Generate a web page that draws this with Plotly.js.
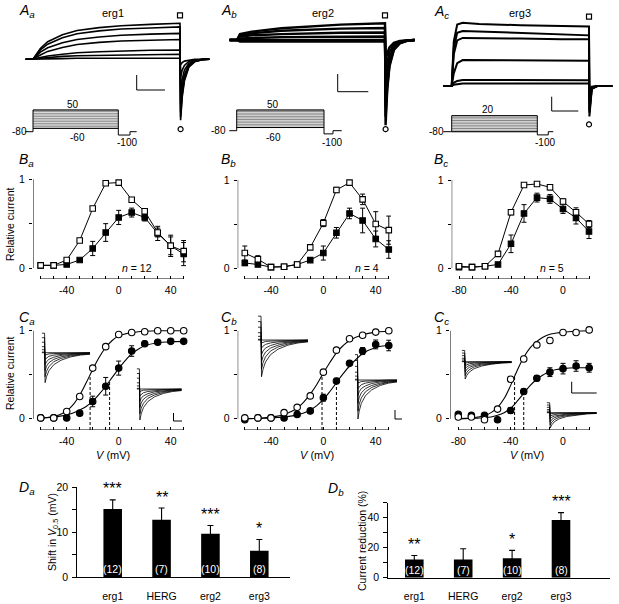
<!DOCTYPE html>
<html><head><meta charset="utf-8">
<script src="https://cdn.plot.ly/plotly-3.0.1.min.js"></script>
<style>html,body{margin:0;padding:0;background:#fff}#chart{width:619px;height:604px}</style>
</head><body><div id="chart"></div>
<script>
const W = 619, H = 604;
const FONT = 'Liberation Sans, Arial, Helvetica, sans-serif';

// ================= DATA =================
// --- A: current traces (normalised units) ---
const tAa = [-50, 0, 50, 100, 200, 300, 450, 600, 800, 1000, 1000, 1004, 1015, 1030, 1060, 1100, 1150, 1200];
const Aa1 = [0, 0, 0.30, 0.49, 0.68, 0.80, 0.88, 0.93, 0.97, 1.00, 1.00, -1.69, -1.05, -0.60, -0.22, -0.07, -0.01, 0];
const Aa2 = [0, 0, 0.26, 0.42, 0.60, 0.71, 0.79, 0.84, 0.87, 0.90, 0.90, -1.60, -0.98, -0.55, -0.20, -0.06, -0.01, 0];
const Aa3 = [0, 0, 0.20, 0.32, 0.46, 0.55, 0.62, 0.67, 0.70, 0.72, 0.72, -1.45, -0.88, -0.50, -0.18, -0.05, -0.01, 0];
const Aa4 = [0, 0, 0.12, 0.22, 0.33, 0.41, 0.47, 0.51, 0.53, 0.55, 0.55, -1.25, -0.75, -0.42, -0.15, -0.05, 0, 0];
const Aa5 = [0, 0, 0.05, 0.09, 0.14, 0.18, 0.21, 0.23, 0.25, 0.26, 0.26, -0.90, -0.55, -0.30, -0.11, -0.03, 0, 0];
const Aa6 = [0, 0, 0.03, 0.05, 0.08, 0.10, 0.11, 0.12, 0.13, 0.14, 0.14, -0.50, -0.30, -0.17, -0.06, -0.02, 0, 0];
const Aa7 = [0, 0, 0.01, 0.02, 0.02, 0.03, 0.03, 0.03, 0.03, 0.03, 0.03, -0.15, -0.09, -0.05, -0.02, 0, 0, 0];

const tAb = [-50, 0, 20, 100, 300, 500, 700, 1000, 1000, 1004, 1015, 1030, 1060, 1100, 1150, 1200];
const Ab1 = [0, 0, 0.35, 0.50, 0.70, 0.82, 0.92, 1.00, 1.00, -5.1, -3.0, -1.6, -0.60, -0.20, -0.05, 0];
const Ab2 = [0, 0, 0.30, 0.40, 0.55, 0.62, 0.68, 0.72, 0.72, -4.6, -2.8, -1.5, -0.55, -0.18, -0.04, 0];
const Ab3 = [0, 0, 0.20, 0.28, 0.35, 0.40, 0.43, 0.45, 0.45, -4.0, -2.5, -1.35, -0.50, -0.16, -0.04, 0];
const Ab4 = [0, 0, 0.10, 0.13, 0.17, 0.19, 0.20, 0.21, 0.21, -3.2, -2.0, -1.1, -0.40, -0.13, -0.03, 0];
const Ab5 = [0, 0, 0, 0, 0, 0, 0, 0, 0, -2.2, -1.4, -0.75, -0.28, -0.09, -0.02, 0];
const Ab6 = [0, 0, -0.10, -0.10, -0.10, -0.10, -0.10, -0.10, -0.10, -1.2, -0.8, -0.45, -0.17, -0.05, -0.01, 0];

const tAc = [-60, 0, 15, 40, 80, 200, 500, 800, 1000, 1000, 1003, 1020, 1060, 1100, 1170];
const Ac1 = [0, 0, 0.70, 0.97, 1.00, 0.98, 0.96, 0.95, 0.94, 0.94, -0.48, -0.05, 0, 0, 0];
const Ac2 = [0, 0, 0.60, 0.84, 0.87, 0.86, 0.84, 0.82, 0.80, 0.80, -0.42, -0.04, 0, 0, 0];
const Ac3 = [0, 0, 0.50, 0.72, 0.76, 0.76, 0.75, 0.74, 0.74, 0.74, -0.38, -0.04, 0, 0, 0];
const Ac4 = [0, 0, 0.20, 0.36, 0.41, 0.41, 0.41, 0.40, 0.40, 0.40, -0.25, -0.03, 0, 0, 0];
const Ac5 = [0, 0, 0.05, 0.08, 0.095, 0.095, 0.09, 0.09, 0.09, 0.09, -0.12, -0.02, 0, 0, 0];
const Ac6 = [0, 0, 0.02, 0.03, 0.04, 0.04, 0.04, 0.04, 0.04, 0.04, -0.06, -0.01, 0, 0, 0];

// --- A: voltage protocols (mV) ---
const protoStepsAB = [-60, -50, -40, -30, -20, -10, 0, 10, 20, 30, 40, 50];
const protoStepsC = [-80, -70, -60, -50, -40, -30, -20, -10, 0, 10, 20];
const protoHold = -80, protoTail = -100;
const protoTimesA = [-94, 0, 1000, 1137, 1215];
const protoTimesB = [-85, 0, 1000, 1103, 1203];
const protoTimesC = [-98, 0, 1000, 1128, 1187];

// --- B: relative current vs V ---
const vB = [-60, -50, -40, -30, -20, -10, 0, 10, 20, 30, 40, 50];
const vBc = [-80, -70, -60, -50, -40, -30, -20, -10, 0, 10, 20];
const Ba_ctrl = [0.03, 0.03, 0.09, 0.31, 0.67, 0.955, 0.963, 0.77, 0.64, 0.40, 0.25, 0.19];
const Ba_ctrl_err = [0.01, 0.01, 0.015, 0.02, 0.02, 0.01, 0.01, 0.02, 0.03, 0.05, 0.10, 0.12];
const Ba_drug = [0.03, 0.03, 0.04, 0.09, 0.22, 0.40, 0.57, 0.625, 0.57, 0.39, 0.25, 0.157];
const Ba_drug_err = [0.01, 0.01, 0.01, 0.015, 0.08, 0.10, 0.08, 0.05, 0.04, 0.08, 0.12, 0.13];
const Bb_ctrl = [0.17, 0.10, 0.01, 0.015, 0.04, 0.234, 0.51, 0.887, 0.97, 0.78, 0.50, 0.43];
const Bb_ctrl_err = [0.08, 0.04, 0.01, 0.01, 0.01, 0.02, 0.04, 0.03, 0.01, 0.06, 0.14, 0.16];
const Bb_drug = [0.057, 0.04, 0.01, 0.015, 0.04, 0.09, 0.17, 0.40, 0.62, 0.54, 0.33, 0.21];
const Bb_drug_err = [0.03, 0.01, 0.01, 0.01, 0.01, 0.02, 0.08, 0.06, 0.06, 0.14, 0.09, 0.10];
const Bc_ctrl = [0.02, 0.01, 0.02, 0.16, 0.634, 0.943, 0.955, 0.917, 0.755, 0.634, 0.50];
const Bc_ctrl_err = [0.01, 0.01, 0.01, 0.01, 0.03, 0.01, 0.01, 0.03, 0.03, 0.05, 0.04];
const Bc_drug = [0.01, 0.01, 0.02, 0.04, 0.275, 0.62, 0.80, 0.785, 0.67, 0.57, 0.415];
const Bc_drug_err = [0.01, 0.01, 0.01, 0.01, 0.10, 0.10, 0.05, 0.05, 0.05, 0.07, 0.08];

// --- C: activation curves ---
const Ca_ctrl = [0.01, 0.01, 0.083, 0.254, 0.576, 0.82, 0.958, 0.98, 0.99, 1.0, 1.0, 1.0];
const Ca_ctrl_err = [0.01, 0.01, 0.01, 0.02, 0.01, 0.01, 0.01, 0.01, 0.01, 0.01, 0.01, 0.01];
const Ca_drug = [0.01, 0.01, 0.01, 0.064, 0.197, 0.37, 0.576, 0.77, 0.852, 0.87, 0.88, 0.88];
const Ca_drug_err = [0.01, 0.01, 0.01, 0.015, 0.06, 0.10, 0.08, 0.06, 0.03, 0.02, 0.02, 0.02];
const Cb_ctrl = [0.01, 0.01, 0.01, 0.07, 0.13, 0.26, 0.53, 0.78, 0.91, 0.95, 0.985, 1.0];
const Cb_ctrl_err = [0.01, 0.01, 0.01, 0.01, 0.01, 0.01, 0.02, 0.01, 0.01, 0.01, 0.01, 0.01];
const Cb_drug = [-0.01, 0.01, 0.01, 0.01, 0.05, 0.09, 0.24, 0.43, 0.63, 0.77, 0.845, 0.833];
const Cb_drug_err = [0.01, 0.01, 0.01, 0.01, 0.01, 0.015, 0.04, 0.03, 0.02, 0.04, 0.05, 0.06];
const Cc_ctrl = [0.02, 0.02, -0.01, 0.11, 0.45, 0.68, 0.84, 0.89, 0.98, 0.98, 1.01];
const Cc_ctrl_err = [0.01, 0.01, 0.01, 0.01, 0.02, 0.03, 0.02, 0.03, 0.01, 0.01, 0.01];
const Cc_drug = [0.05, 0.04, 0.04, -0.01, 0.095, 0.31, 0.46, 0.53, 0.57, 0.60, 0.58];
const Cc_drug_err = [0.02, 0.02, 0.02, 0.02, 0.03, 0.03, 0.03, 0.05, 0.06, 0.06, 0.05];
// fitted curves
const vFitAB = [-60, -55, -50, -45, -40, -35, -30, -25, -20, -15, -10, -5, 0, 5, 10, 15, 20, 30, 40, 50];
const Ca_fit_ctrl = [0.01, 0.015, 0.03, 0.05, 0.09, 0.16, 0.27, 0.41, 0.56, 0.70, 0.81, 0.89, 0.94, 0.965, 0.98, 0.99, 0.995, 1.0, 1.0, 1.0];
const Ca_fit_drug = [0.01, 0.012, 0.02, 0.03, 0.045, 0.065, 0.10, 0.14, 0.20, 0.28, 0.37, 0.47, 0.57, 0.66, 0.74, 0.79, 0.83, 0.865, 0.875, 0.88];
const Cb_fit_ctrl = [0.0, 0.003, 0.006, 0.01, 0.02, 0.03, 0.05, 0.08, 0.12, 0.19, 0.28, 0.39, 0.52, 0.64, 0.75, 0.83, 0.89, 0.955, 0.985, 0.995];
const Cb_fit_drug = [0.0, 0.002, 0.004, 0.007, 0.01, 0.015, 0.02, 0.03, 0.045, 0.065, 0.10, 0.15, 0.22, 0.31, 0.41, 0.51, 0.60, 0.74, 0.81, 0.835];
const vFitC = [-80, -75, -70, -65, -60, -55, -50, -45, -40, -35, -30, -25, -20, -15, -10, -5, 0, 10, 20];
const Cc_fit_ctrl = [0.0, 0.005, 0.01, 0.02, 0.035, 0.07, 0.13, 0.23, 0.38, 0.55, 0.70, 0.81, 0.88, 0.93, 0.96, 0.975, 0.985, 0.995, 1.0];
const Cc_fit_drug = [0.0, 0.002, 0.005, 0.008, 0.012, 0.02, 0.04, 0.07, 0.12, 0.20, 0.29, 0.38, 0.45, 0.50, 0.54, 0.56, 0.57, 0.58, 0.58];
const v05Ctrl = [-22, -1, -37];
const v05Drug = [-7, 10, -30];
const halfCtrl = [0.5, 0.52, 0.5];
const halfDrug = [0.44, 0.42, 0.29];
// inset tail-current family (normalised)
const insetT = [0, 6, 7, 10, 15, 25, 40, 60, 80, 100];
const insetFamily = [
  [0.65, 0.65, -1.0, -0.80, -0.60, -0.40, -0.25, -0.14, -0.08, -0.05],
  [0.50, 0.50, -0.80, -0.62, -0.46, -0.30, -0.19, -0.11, -0.06, -0.04],
  [0.35, 0.35, -0.60, -0.45, -0.33, -0.22, -0.14, -0.08, -0.05, -0.03],
  [0.20, 0.20, -0.40, -0.30, -0.22, -0.15, -0.09, -0.05, -0.03, -0.02],
  [0.10, 0.10, -0.22, -0.17, -0.12, -0.08, -0.05, -0.03, -0.02, -0.01],
  [0.02, 0.02, -0.08, -0.06, -0.04, -0.03, -0.02, -0.01, 0, 0],
  [0, 0, 0, 0, 0, 0, 0, 0, 0, 0]
];

// --- D: bar charts ---
const dCats = ['erg1', 'HERG', 'erg2', 'erg3'];
const Da_shift = [15.2, 12.8, 9.7, 5.9];
const Da_err = [2.0, 2.6, 1.8, 2.5];
const Da_stars = ['***', '**', '***', '*'];
const Db_red = [12.1, 12.2, 12.9, 38.4];
const Db_err = [2.7, 7.1, 5.3, 5.0];
const Db_stars = ['**', '', '*', '***'];
const dN = ['(12)', '(7)', '(10)', '(8)'];

// ================= HELPERS =================
function xdom(pxL, pxR, p1, v1, p2, v2) {
  const s = (v2 - v1) / (p2 - p1);
  return { domain: [pxL / W, pxR / W], range: [v1 + (pxL - p1) * s, v1 + (pxR - p1) * s] };
}
function ydom(pxT, pxB, p1, v1, p2, v2) {
  const s = (v2 - v1) / (p2 - p1);
  return { domain: [1 - pxB / H, 1 - pxT / H], range: [v1 + (pxB - p1) * s, v1 + (pxT - p1) * s] };
}
const sfx = n => (n === 1 ? '' : String(n));
const layout = {
  width: W, height: H, margin: { l: 0, r: 0, t: 0, b: 0 }, showlegend: false,
  paper_bgcolor: '#fff', plot_bgcolor: 'rgba(0,0,0,0)',
  font: { family: FONT, size: 10.5, color: '#000' },
  annotations: [], shapes: []
};
const data = [];
const hidden = { visible: false, showgrid: false, zeroline: false, fixedrange: true };
function setAxes(n, xa, ya) {
  layout['xaxis' + sfx(n)] = Object.assign({ anchor: 'y' + sfx(n) }, xa);
  layout['yaxis' + sfx(n)] = Object.assign({ anchor: 'x' + sfx(n) }, ya);
}
function txt(px, py, text, o) {
  layout.annotations.push(Object.assign({ xref: 'paper', yref: 'paper', x: px / W, y: 1 - py / H, text: text, showarrow: false, xanchor: 'center', yanchor: 'middle', font: { size: 10.5, family: FONT, color: '#000' } }, o || {}));
}
function segPx(x0, y0, x1, y1, w) {
  layout.shapes.push({ type: 'line', xref: 'paper', yref: 'paper', x0: x0 / W, y0: 1 - y0 / H, x1: x1 / W, y1: 1 - y1 / H, line: { color: '#000', width: w || 1 } });
}
function lineTrace(n, x, y, w, extra) {
  data.push(Object.assign({ type: 'scatter', mode: 'lines', x: x, y: y, xaxis: 'x' + sfx(n), yaxis: 'y' + sfx(n), line: { color: '#000', width: w }, hoverinfo: 'skip' }, extra || {}));
}
// data units per screen pixel on a y axis
function yPerPx(n) {
  const a = layout['yaxis' + sfx(n)];
  return (a.range[1] - a.range[0]) / ((a.domain[1] - a.domain[0]) * H);
}

// ================= A PANELS =================
function tracesPanel(n, t, list, w) { list.forEach(y => lineTrace(n, t, y, w)); }
function protoPanel(n, steps, times) {
  const [tPre, t0, t1, tT, tE] = times;
  const vmax = Math.max(...steps);
  lineTrace(n, [tPre, t0], [protoHold, protoHold], 1);
  const xs = [], ys = [];
  steps.forEach(v => { xs.push(t0, t1, null); ys.push(v, v, null); });
  lineTrace(n, xs, ys, 0.7, { line: { color: '#555', width: 0.7 } });
  lineTrace(n, [t0, t0, t1, t1, t1, tT, tT, tE], [protoHold, vmax, vmax, vmax, protoTail, protoTail, protoHold, protoHold], 1);
  lineTrace(n, [t0, t1], [Math.min(...steps), Math.min(...steps)], 1);
}
// Aa
setAxes(1, Object.assign({}, hidden, xdom(25, 215, 33, 0, 180, 1000)), Object.assign({}, hidden, ydom(5, 140, 59.3, 0, 23.3, 1)));
tracesPanel(1, tAa, [Aa7, Aa6, Aa5, Aa4, Aa3, Aa2, Aa1], 1.6);
setAxes(2, Object.assign({}, hidden, xdom(15, 145, 33, 0, 118.3, 1000)), Object.assign({}, hidden, ydom(100, 145, 131.7, -80, 110, 50)));
protoPanel(2, protoStepsAB, protoTimesA);
// Ab
setAxes(3, Object.assign({}, hidden, xdom(225, 415, 237, 0, 385, 1000)), Object.assign({}, hidden, ydom(5, 140, 40, 0, 23.3, 1)));
tracesPanel(3, tAb, [Ab6, Ab5, Ab4, Ab3, Ab2, Ab1], 2.4);
setAxes(4, Object.assign({}, hidden, xdom(220, 350, 236.7, 0, 324, 1000)), Object.assign({}, hidden, ydom(100, 145, 130.7, -80, 110, 50)));
protoPanel(4, protoStepsAB, protoTimesB);
// Ac
setAxes(5, Object.assign({}, hidden, xdom(440, 619, 451.7, 0, 589, 1000)), Object.assign({}, hidden, ydom(5, 140, 86, 0, 22.7, 1)));
tracesPanel(5, tAc, [Ac6, Ac5, Ac4, Ac3, Ac2, Ac1], 2.0);
setAxes(6, Object.assign({}, hidden, xdom(430, 565, 451.7, 0, 537.3, 1000)), Object.assign({}, hidden, ydom(100, 145, 131.7, -80, 115.7, 20)));
protoPanel(6, protoStepsC, protoTimesC);

// measurement markers (square above end of step, circle below tail peak)
function markers(n, t, top, tailT, sqShift, ciShift) {
  const k = yPerPx(n);
  const mk = sym => ({ size: 5, color: '#fff', symbol: sym, line: { color: '#000', width: 1.2 } });
  data.push({ type: 'scatter', mode: 'markers', x: [t[t.indexOf(1000)]], y: [Math.max(...top) + sqShift * k], xaxis: 'x' + sfx(n), yaxis: 'y' + sfx(n), marker: mk('square'), cliponaxis: false, hoverinfo: 'skip' });
  data.push({ type: 'scatter', mode: 'markers', x: [tailT], y: [Math.min(...top) - ciShift * k], xaxis: 'x' + sfx(n), yaxis: 'y' + sfx(n), marker: mk('circle'), cliponaxis: false, hoverinfo: 'skip' });
}
markers(1, tAa, Aa1, 1004, 8, 9);
markers(3, tAb, Ab1, 1004, 8, 4);
markers(5, tAc, Ac1, 1000, 6, 8);

// scale bars
segPx(136.7, 75, 136.7, 90); segPx(136.7, 90, 165, 90);
segPx(337.7, 74, 337.7, 91.7); segPx(337.7, 91.7, 368.3, 91.7);
segPx(551.7, 96.7, 551.7, 111); segPx(551.7, 111, 578.3, 111);

// panel letters and A labels
const lettersFont = { size: 14, family: FONT, color: '#000' };
function letter(px, py, A, a) { txt(px, py, '<i>' + A + '<sub>' + a + '</sub></i>', { xanchor: 'left', font: lettersFont }); }
letter(17, 11, 'A', 'a'); letter(219, 11, 'A', 'b'); letter(432, 12, 'A', 'c');
letter(17, 160, 'B', 'a'); letter(219, 160, 'B', 'b'); letter(432, 160, 'B', 'c');
letter(17, 318, 'C', 'a'); letter(219, 318, 'C', 'b'); letter(432, 318, 'C', 'c');
letter(17, 488, 'D', 'a'); letter(326, 489, 'D', 'b');
txt(113, 13, 'erg1', { font: { size: 11, family: FONT, color: '#000' } });
txt(323, 13, 'erg2', { font: { size: 11, family: FONT, color: '#000' } });
txt(520, 13, 'erg3', { font: { size: 11, family: FONT, color: '#000' } });
const pf = { size: 10, family: FONT, color: '#000' };
txt(72.5, 104.5, '50', { font: pf }); txt(77, 138, '-60', { font: pf }); txt(19, 131.7, '-80', { font: pf }); txt(127, 142, '-100', { font: pf });
txt(273, 104.3, '50', { font: pf }); txt(273, 137.3, '-60', { font: pf }); txt(218, 130.7, '-80', { font: pf }); txt(332, 142.7, '-100', { font: pf });
txt(488.3, 110, '20', { font: pf }); txt(436, 131.7, '-80', { font: pf }); txt(545, 142, '-100', { font: pf });

// ================= B & C PANELS =================
function bcAxes(n, xd, yd, vmin, vmax) {
  const tv = [];
  for (let v = vmin; v <= vmax; v += 10) tv.push(v);
  const tt = tv.map(v => (v % 40 === 0 ? String(v) : ''));
  setAxes(n,
    Object.assign({ showline: false, showgrid: false, zeroline: false, ticks: 'inside', ticklen: 3, tickwidth: 1, tickcolor: '#000', tickvals: tv, ticktext: tt, tickfont: { size: 10.5, family: FONT, color: '#000' }, ticklabelstandoff: 3, fixedrange: true }, xd),
    Object.assign({ showline: false, showgrid: false, zeroline: false, ticks: 'outside', ticklen: 3, tickwidth: 1, tickcolor: '#000', tickvals: [0, 0.5, 1], ticktext: ['0', '', '1'], tickfont: { size: 10.5, family: FONT, color: '#000' }, ticklabelstandoff: 2, fixedrange: true }, yd));
  layout.shapes.push({ type: 'line', xref: 'x' + sfx(n), yref: 'y' + sfx(n), x0: xd.range[0], x1: xd.range[0], y0: 0, y1: 1, line: { color: '#000', width: 1 } });
  layout.shapes.push({ type: 'line', xref: 'x' + sfx(n), yref: 'y' + sfx(n), x0: vmin, x1: vmax, y0: yd.range[0], y1: yd.range[0], line: { color: '#000', width: 1 } });
}
function pts(n, x, y, err, filled, sym, withLine) {
  data.push({ type: 'scatter', mode: withLine ? 'lines+markers' : 'markers', x: x, y: y, xaxis: 'x' + sfx(n), yaxis: 'y' + sfx(n),
    line: { color: '#000', width: 1 }, cliponaxis: false,
    marker: { symbol: sym, size: sym === 'square' ? 5.5 : 6.5, color: filled ? '#000' : '#fff', line: { color: '#000', width: 1.1 } },
    error_y: { type: 'data', array: err, visible: true, color: '#000', thickness: 1, width: 2.5 }, hoverinfo: 'skip' });
}
// B
const xBa = xdom(33, 186, 40.7, -60, 170.7, 40), yB = ydom(175, 279, 268, 0, 179.3, 1);
bcAxes(7, xBa, yB, -60, 50);
pts(7, vB, Ba_drug, Ba_drug_err, true, 'square', true);
pts(7, vB, Ba_ctrl, Ba_ctrl_err, false, 'square', true);
const xBb = xdom(237.7, 391, 244.8, -60, 375.7, 40), yBb = ydom(175, 279, 268, 0, 180, 1);
bcAxes(8, xBb, yBb, -60, 50);
pts(8, vB, Bb_drug, Bb_drug_err, true, 'square', true);
pts(8, vB, Bb_ctrl, Bb_ctrl_err, false, 'square', true);
const xBc = xdom(451.7, 593, 459, -80, 563, 0);
bcAxes(9, xBc, yBb, -80, 20);
pts(9, vBc, Bc_drug, Bc_drug_err, true, 'square', true);
pts(9, vBc, Bc_ctrl, Bc_ctrl_err, false, 'square', true);
const tf = { size: 10.5, family: FONT, color: '#000' };
txt(10, 224, 'Relative current', { textangle: -90, font: tf });
txt(137, 268.3, '<i>n</i> = 12', { font: tf });
txt(367, 267.7, '<i>n</i> = 4', { font: tf });
txt(552, 268.3, '<i>n</i> = 5', { font: tf });

// C
const yC = ydom(326, 430, 418.8, 0, 330.8, 1);
const insetBoxes = [
  [41.7, 90, 352.7, 382.7], [136.7, 181.7, 389, 420],
  [258, 308, 340, 376.7], [355, 397, 380, 419],
  [461.7, 511.7, 361.7, 379], [546.7, 596.7, 412.7, 428]
];
const cSets = [
  { n: 10, xd: xBa, vmin: -60, vmax: 50, v: vB, c: Ca_ctrl, ce: Ca_ctrl_err, d: Ca_drug, de: Ca_drug_err, fx: vFitAB, fc: Ca_fit_ctrl, fd: Ca_fit_drug },
  { n: 11, xd: xBb, vmin: -60, vmax: 50, v: vB, c: Cb_ctrl, ce: Cb_ctrl_err, d: Cb_drug, de: Cb_drug_err, fx: vFitAB, fc: Cb_fit_ctrl, fd: Cb_fit_drug },
  { n: 12, xd: xdom(450, 593, 458.3, -80, 563, 0), vmin: -80, vmax: 20, v: vBc, c: Cc_ctrl, ce: Cc_ctrl_err, d: Cc_drug, de: Cc_drug_err, fx: vFitC, fc: Cc_fit_ctrl, fd: Cc_fit_drug }
];
cSets.forEach((s, i) => {
  bcAxes(s.n, s.xd, yC, s.vmin, s.vmax);
  lineTrace(s.n, s.fx, s.fc, 1.1, { line: { color: '#000', width: 1.1, shape: 'spline' } });
  lineTrace(s.n, s.fx, s.fd, 1.1, { line: { color: '#000', width: 1.1, shape: 'spline' } });
  lineTrace(s.n, [v05Ctrl[i], v05Ctrl[i]], [yC.range[0], halfCtrl[i]], 1, { line: { color: '#000', width: 1, dash: '3px,2px' } });
  lineTrace(s.n, [v05Drug[i], v05Drug[i]], [yC.range[0], halfDrug[i]], 1, { line: { color: '#000', width: 1, dash: '3px,2px' } });
  pts(s.n, s.v, s.d, s.de, true, 'circle', false);
  pts(s.n, s.v, s.c, s.ce, false, 'circle', false);
});
// insets
insetBoxes.forEach((b, k) => {
  const n = 13 + k;
  setAxes(n, Object.assign({}, hidden, xdom(b[0], b[1], b[0], 0, b[1], 100)),
    Object.assign({}, hidden, ydom(b[2] - 30, b[3] + 2, b[2], 0, b[3], -1)));
  insetFamily.forEach(y => lineTrace(n, insetT, y, 0.8));
});
segPx(173.5, 413, 173.5, 421); segPx(173.5, 421, 182, 421);
segPx(395, 410, 395, 419); segPx(395, 419, 402, 419);
segPx(571.7, 381.7, 571.7, 393); segPx(571.7, 393, 596.7, 393);
txt(10, 373, 'Relative current', { textangle: -90, font: tf });
const vf = { size: 11, family: FONT, color: '#000' };
txt(113, 455, '<i>V</i> (mV)', { font: vf });
txt(317, 455, '<i>V</i> (mV)', { font: vf });
txt(527, 455, '<i>V</i> (mV)', { font: vf });

// ================= D PANELS =================
function barPanel(n, xd, yd, vals, errs, stars, tv, tt) {
  setAxes(n,
    Object.assign({ type: 'category', showline: true, linecolor: '#000', linewidth: 1, ticks: '', showgrid: false, zeroline: false, tickfont: { size: 10.5, family: FONT, color: '#000' }, ticklabelstandoff: 9, fixedrange: true }, xd),
    Object.assign({ showline: true, linecolor: '#000', linewidth: 1, ticks: 'outside', ticklen: 4, tickcolor: '#000', showgrid: false, zeroline: false, tickvals: tv, ticktext: tt, tickfont: { size: 10.5, family: FONT, color: '#000' }, ticklabelstandoff: 2, fixedrange: true }, yd));
  data.push({ type: 'bar', x: dCats, y: vals, xaxis: 'x' + sfx(n), yaxis: 'y' + sfx(n), width: 0.38, marker: { color: '#000', line: { width: 0 } },
    error_y: { type: 'data', array: errs, visible: true, color: '#000', thickness: 1.1, width: 3 }, hoverinfo: 'skip' });
  dCats.forEach((c, i) => {
    if (stars[i]) layout.annotations.push({ xref: 'x' + sfx(n), yref: 'y' + sfx(n), x: c, y: vals[i] + errs[i], yshift: 11, text: stars[i], showarrow: false, font: { size: 16, family: FONT, color: '#000' } });
    layout.annotations.push({ xref: 'x' + sfx(n), yref: 'y' + sfx(n), x: c, y: 0, yshift: 8, text: dN[i], showarrow: false, font: { size: 10.5, family: FONT, color: '#fff' } });
  });
}
barPanel(19, xdom(77.3, 290, 112.7, 0, 259.3, 3), ydom(486.7, 577.3, 577.3, 0, 532.3, 10), Da_shift, Da_err, Da_stars, [0, 5, 10, 15, 20], ['0', '', '10', '', '20']);
barPanel(20, xdom(388.3, 610, 414.3, 0, 561, 3), ydom(502.7, 577.7, 577.7, 0, 517.7, 40), Db_red, Db_err, Db_stars, [0, 10, 20, 30, 40, 50], ['0', '', '20', '', '40', '']);
txt(52.5, 531.5, 'Shift in <i>V</i><sub>0.5</sub> (mV)', { textangle: -90, font: tf });
txt(362, 541, 'Current reduction (%)', { textangle: -90, font: tf });

Plotly.newPlot('chart', data, layout, { staticPlot: true, displayModeBar: false });
</script>
</body></html>
